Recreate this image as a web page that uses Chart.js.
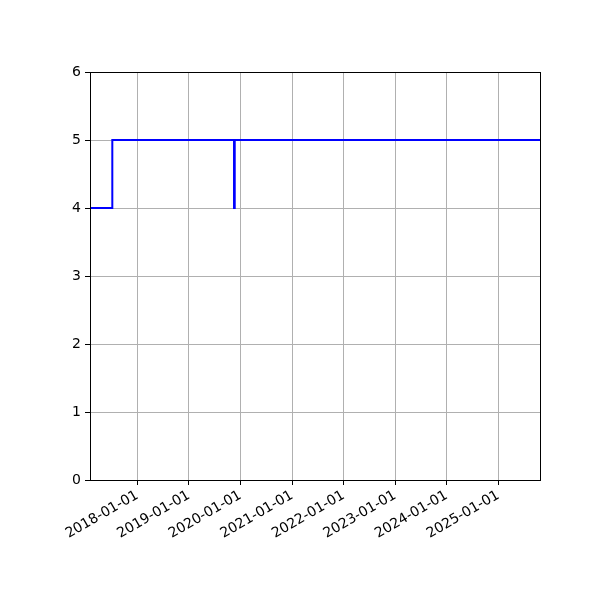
<!DOCTYPE html>
<html>
<head>
<meta charset="utf-8">
<script src="https://cdn.jsdelivr.net/npm/chart.js@4"></script>
<style>
  html, body { margin: 0; padding: 0; background: #fff; }
  canvas { display: block; }
</style>
</head>
<body>
<canvas id="stepChart" width="600" height="600"></canvas>
<script>
// step series (steps-post)
const stepDates = ['2017-01-31', '2017-07-08', '2019-11-17', '2019-11-22', '2025-10-23'];
const stepValues = [4, 5, 4, 5, 5];
const tickLabels = ['2018-01-01', '2019-01-01', '2020-01-01', '2021-01-01',
                    '2022-01-01', '2023-01-01', '2024-01-01', '2025-01-01'];
const yTicks = [0, 1, 2, 3, 4, 5, 6];

const toMs = s => Date.parse(s + 'T00:00:00Z');
const tickValues = tickLabels.map(toMs);

const frame = {
    id: 'frame',
    afterDraw(chart) {
        const { ctx, chartArea } = chart;
        ctx.save();
        ctx.strokeStyle = '#000';
        ctx.lineWidth = 1;
        ctx.strokeRect(chartArea.left + 0.5, chartArea.top + 0.5,
            chartArea.right - chartArea.left, chartArea.bottom - chartArea.top);
        ctx.restore();
    }
};

new Chart(document.getElementById('stepChart'), {
    type: 'line',
    data: {
        datasets: [{
            data: stepDates.map((d, i) => ({ x: toMs(d), y: stepValues[i] })),
            borderColor: '#0000ff',
            borderWidth: 2,
            pointRadius: 0,
            stepped: true,
            fill: false
        }]
    },
    options: {
        responsive: false,
        animation: false,
        devicePixelRatio: 1,
        layout: { padding: { left: 0, right: 60, top: 72, bottom: 0 } },
        plugins: { legend: { display: false }, tooltip: { enabled: false } },
        scales: {
            x: {
                type: 'linear',
                min: toMs(stepDates[0]),
                max: toMs(stepDates[stepDates.length - 1]),
                afterBuildTicks: scale => { scale.ticks = tickValues.map(v => ({ value: v })); },
                afterFit: scale => { scale.height = 120; },
                grid: { color: '#b0b0b0', tickColor: '#000', tickLength: 5, lineWidth: 1 },
                border: { color: '#000' },
                ticks: {
                    autoSkip: false,
                    minRotation: 30,
                    maxRotation: 30,
                    padding: 2,
                    color: '#000',
                    font: { family: 'DejaVu Sans', size: 14 },
                    callback: (v, i) => tickLabels[i]
                }
            },
            y: {
                min: 0,
                max: 6,
                afterBuildTicks: scale => { scale.ticks = yTicks.map(v => ({ value: v })); },
                afterFit: scale => { scale.width = 90; },
                grid: { color: '#b0b0b0', tickColor: '#000', tickLength: 5, lineWidth: 1 },
                border: { color: '#000' },
                ticks: {
                    padding: 4,
                    color: '#000',
                    font: { family: 'DejaVu Sans', size: 14 }
                }
            }
        }
    },
    plugins: [frame]
});
</script>
</body>
</html>
